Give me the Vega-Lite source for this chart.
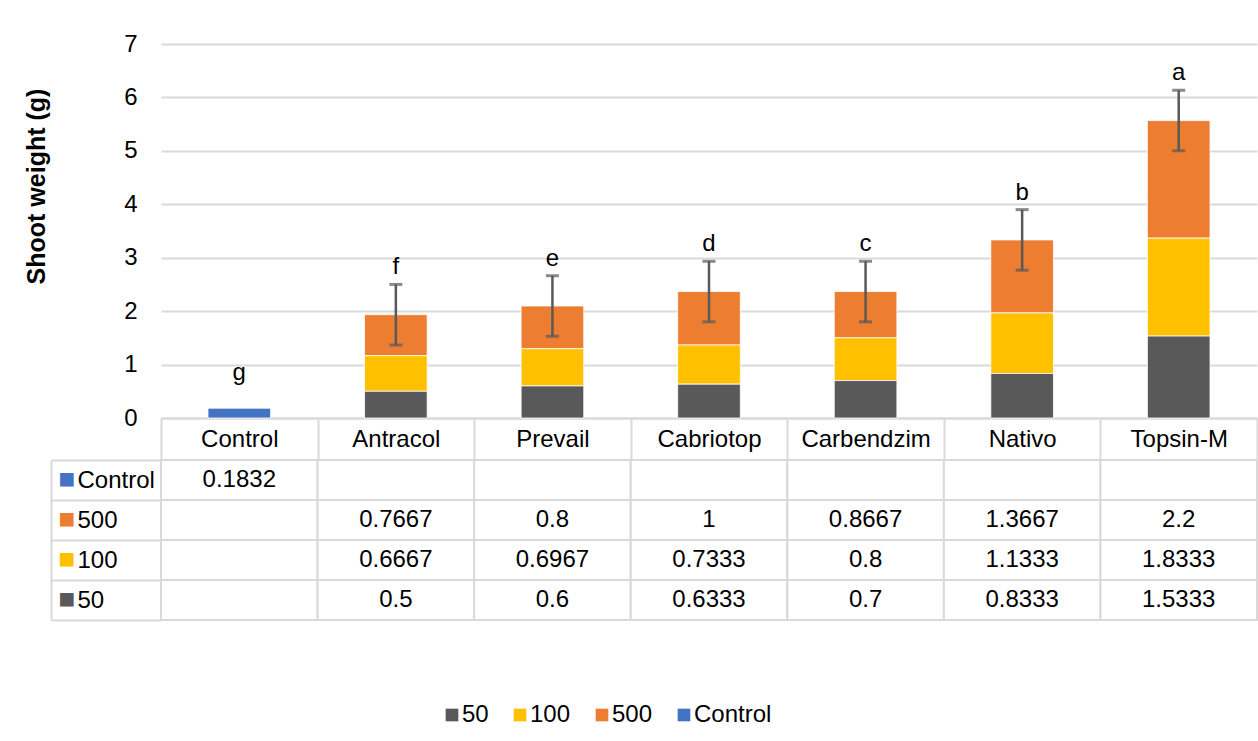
{
  "$schema": "https://vega.github.io/schema/vega-lite/v6.json",
  "background": "white",
  "padding": {"left": 24, "top": 32, "right": 0, "bottom": 0},
  "config": {"font": "Liberation Sans", "view": {"stroke": null}},
  "datasets": {
    "table": [
      {"cat": "Control", "series": "Control", "dose": 0, "v": 0.1832},
      {"cat": "Control", "series": "500", "dose": 500, "v": null},
      {"cat": "Control", "series": "100", "dose": 100, "v": null},
      {"cat": "Control", "series": "50", "dose": 50, "v": null},
      {"cat": "Antracol", "series": "Control", "dose": 0, "v": null},
      {"cat": "Antracol", "series": "500", "dose": 500, "v": 0.7667},
      {"cat": "Antracol", "series": "100", "dose": 100, "v": 0.6667},
      {"cat": "Antracol", "series": "50", "dose": 50, "v": 0.5},
      {"cat": "Prevail", "series": "Control", "dose": 0, "v": null},
      {"cat": "Prevail", "series": "500", "dose": 500, "v": 0.8},
      {"cat": "Prevail", "series": "100", "dose": 100, "v": 0.6967},
      {"cat": "Prevail", "series": "50", "dose": 50, "v": 0.6},
      {"cat": "Cabriotop", "series": "Control", "dose": 0, "v": null},
      {"cat": "Cabriotop", "series": "500", "dose": 500, "v": 1},
      {"cat": "Cabriotop", "series": "100", "dose": 100, "v": 0.7333},
      {"cat": "Cabriotop", "series": "50", "dose": 50, "v": 0.6333},
      {"cat": "Carbendzim", "series": "Control", "dose": 0, "v": null},
      {"cat": "Carbendzim", "series": "500", "dose": 500, "v": 0.8667},
      {"cat": "Carbendzim", "series": "100", "dose": 100, "v": 0.8},
      {"cat": "Carbendzim", "series": "50", "dose": 50, "v": 0.7},
      {"cat": "Nativo", "series": "Control", "dose": 0, "v": null},
      {"cat": "Nativo", "series": "500", "dose": 500, "v": 1.3667},
      {"cat": "Nativo", "series": "100", "dose": 100, "v": 1.1333},
      {"cat": "Nativo", "series": "50", "dose": 50, "v": 0.8333},
      {"cat": "Topsin-M", "series": "Control", "dose": 0, "v": null},
      {"cat": "Topsin-M", "series": "500", "dose": 500, "v": 2.2},
      {"cat": "Topsin-M", "series": "100", "dose": 100, "v": 1.8333},
      {"cat": "Topsin-M", "series": "50", "dose": 50, "v": 1.5333}
    ],
    "errors": [
      {"cat": "Antracol", "lo": 1.366, "hi": 2.5},
      {"cat": "Prevail", "lo": 1.53, "hi": 2.663},
      {"cat": "Cabriotop", "lo": 1.8, "hi": 2.933},
      {"cat": "Carbendzim", "lo": 1.8, "hi": 2.933},
      {"cat": "Nativo", "lo": 2.766, "hi": 3.9},
      {"cat": "Topsin-M", "lo": 5.0, "hi": 6.133}
    ],
    "letters": [
      {"cat": "Control", "letter": "g", "at": 0.515},
      {"cat": "Antracol", "letter": "f", "at": 2.5},
      {"cat": "Prevail", "letter": "e", "at": 2.663},
      {"cat": "Cabriotop", "letter": "d", "at": 2.933},
      {"cat": "Carbendzim", "letter": "c", "at": 2.933},
      {"cat": "Nativo", "letter": "b", "at": 3.9},
      {"cat": "Topsin-M", "letter": "a", "at": 6.133}
    ]
  },
  "bounds": "flush",
  "spacing": 42,
  "vconcat": [
    {
      "width": 1096,
      "height": 374,
      "layer": [
        {
          "data": {"name": "table"},
          "transform": [{"filter": "datum.v != null"}],
          "mark": {"type": "bar", "width": {"band": 0.4}, "stroke": "#FFFFFF", "strokeWidth": 0.8},
          "encoding": {
            "x": {
              "field": "cat", "type": "nominal",
              "sort": ["Control", "Antracol", "Prevail", "Cabriotop", "Carbendzim", "Nativo", "Topsin-M"],
              "scale": {"domain": ["Control", "Antracol", "Prevail", "Cabriotop", "Carbendzim", "Nativo", "Topsin-M"], "paddingInner": 0, "paddingOuter": 0},
              "axis": {
                "title": null, "labelAngle": 0, "domain": true, "domainColor": "#D9D9D9", "domainWidth": 2,
                "ticks": true, "tickBand": "extent", "tickSize": 42, "tickColor": "#D9D9D9", "tickWidth": 2,
                "labelPadding": -21, "labelBaseline": "middle", "labelFontSize": 24, "labelColor": "#000000", "grid": false
              }
            },
            "y": {
              "field": "v", "type": "quantitative", "stack": "zero",
              "scale": {"domain": [0, 7], "nice": false},
              "axis": {
                "values": [0, 1, 2, 3, 4, 5, 6, 7], "format": "d", "grid": true, "gridColor": "#D9D9D9", "gridWidth": 2,
                "domain": false, "ticks": false, "labelPadding": 24, "labelFontSize": 24, "labelColor": "#000000",
                "title": "Shoot weight (g)", "titleFontSize": 25, "titleFontWeight": "bold", "titleColor": "#000000",
                "titlePadding": 74, "titleY": 142
              }
            },
            "color": {
              "field": "series", "type": "nominal",
              "scale": {"domain": ["50", "100", "500", "Control"], "range": ["#595959", "#FFC000", "#ED7D31", "#4472C4"]},
              "legend": {
                "title": null, "orient": "none", "legendX": 279, "legendY": 659, "direction": "horizontal",
                "symbolType": "square", "symbolSize": 160, "symbolStrokeWidth": 0, "labelFontSize": 24,
                "labelColor": "#000000", "columnPadding": 19, "labelOffset": -2, "labelLimit": 300
              }
            },
            "order": {"field": "dose", "type": "quantitative", "sort": "ascending"}
          }
        },
        {
          "data": {"name": "errors"},
          "mark": {"type": "rule", "color": "#595959", "strokeWidth": 2.5},
          "encoding": {
            "x": {"field": "cat", "type": "nominal", "sort": ["Control", "Antracol", "Prevail", "Cabriotop", "Carbendzim", "Nativo", "Topsin-M"]},
            "y": {"field": "lo", "type": "quantitative"},
            "y2": {"field": "hi"}
          }
        },
        {
          "data": {"name": "errors"},
          "mark": {"type": "tick", "color": "#595959", "thickness": 3, "size": 13},
          "encoding": {
            "x": {"field": "cat", "type": "nominal", "sort": ["Control", "Antracol", "Prevail", "Cabriotop", "Carbendzim", "Nativo", "Topsin-M"]},
            "y": {"field": "lo", "type": "quantitative"}
          }
        },
        {
          "data": {"name": "errors"},
          "mark": {"type": "tick", "color": "#595959", "thickness": 3, "size": 13},
          "encoding": {
            "x": {"field": "cat", "type": "nominal", "sort": ["Control", "Antracol", "Prevail", "Cabriotop", "Carbendzim", "Nativo", "Topsin-M"]},
            "y": {"field": "hi", "type": "quantitative"}
          }
        },
        {
          "data": {"name": "letters"},
          "mark": {"type": "text", "fontSize": 24, "baseline": "alphabetic", "dy": -10, "color": "#000000"},
          "encoding": {
            "x": {"field": "cat", "type": "nominal", "sort": ["Control", "Antracol", "Prevail", "Cabriotop", "Carbendzim", "Nativo", "Topsin-M"]},
            "y": {"field": "at", "type": "quantitative"},
            "text": {"field": "letter"}
          }
        }
      ]
    },
    {
      "width": 1096,
      "height": 160,
      "data": {"name": "table"},
      "layer": [
        {
          "mark": {"type": "rect", "fill": "#FFFFFF", "stroke": "#D9D9D9", "strokeWidth": 2},
          "encoding": {
            "x": {
              "field": "cat", "type": "nominal",
              "sort": ["Control", "Antracol", "Prevail", "Cabriotop", "Carbendzim", "Nativo", "Topsin-M"],
              "scale": {"domain": ["Control", "Antracol", "Prevail", "Cabriotop", "Carbendzim", "Nativo", "Topsin-M"], "paddingInner": 0, "paddingOuter": 0},
              "axis": null
            },
            "y": {
              "field": "series", "type": "nominal",
              "sort": ["Control", "500", "100", "50"],
              "scale": {"domain": ["Control", "500", "100", "50"], "paddingInner": 0, "paddingOuter": 0},
              "axis": {
                "orient": "left", "title": null, "domain": false, "ticks": true, "tickBand": "extent", "tickSize": 110,
                "tickColor": "#D9D9D9", "tickWidth": 2, "labelAlign": "left", "labelPadding": -26,
                "labelBaseline": "middle", "labelFontSize": 24, "labelColor": "#000000", "grid": false
              }
            }
          }
        },
        {
          "transform": [{"filter": "datum.v != null"}],
          "mark": {"type": "text", "fontSize": 24, "color": "#000000"},
          "encoding": {
            "x": {
              "field": "cat", "type": "nominal",
              "sort": ["Control", "Antracol", "Prevail", "Cabriotop", "Carbendzim", "Nativo", "Topsin-M"],
              "axis": null
            },
            "y": {
              "field": "series", "type": "nominal",
              "sort": ["Control", "500", "100", "50"],
              "axis": {
                "orient": "left", "title": null, "offset": 110, "domain": true, "domainColor": "#D9D9D9", "domainWidth": 2,
                "ticks": false, "grid": false, "labelExpr": "'■'", "labelAlign": "left", "labelPadding": -7,
                "labelBaseline": "middle", "labelFontSize": 28,
                "labelColor": {
                  "condition": [
                    {"test": "datum.value === 'Control'", "value": "#4472C4"},
                    {"test": "datum.value === '500'", "value": "#ED7D31"},
                    {"test": "datum.value === '100'", "value": "#FFC000"}
                  ],
                  "value": "#595959"
                }
              }
            },
            "text": {"field": "v", "type": "quantitative", "format": ".4~f"}
          }
        }
      ],
      "resolve": {"axis": {"y": "independent"}}
    }
  ]
}
